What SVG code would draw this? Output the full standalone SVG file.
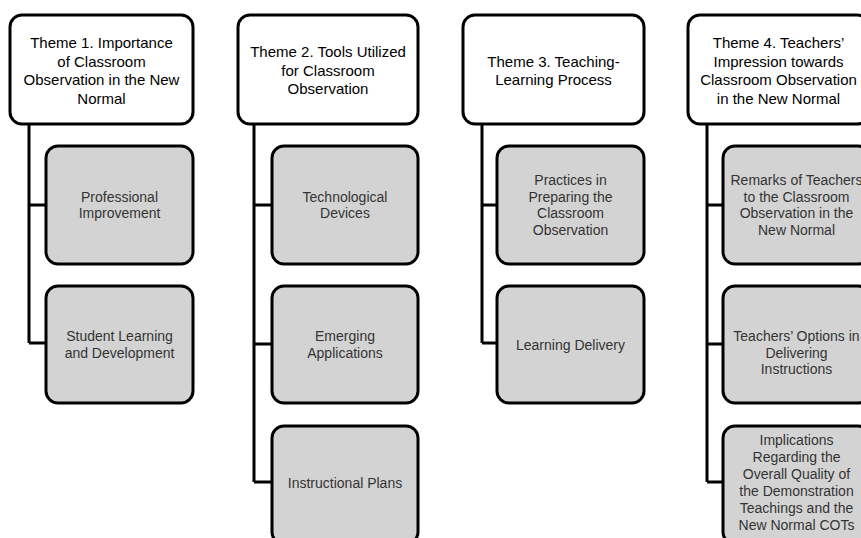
<svg xmlns="http://www.w3.org/2000/svg" width="861" height="538" viewBox="0 0 861 538">
<style>
.t{fill:#fff;stroke:#000;stroke-width:3}
.c{fill:#d3d3d3;stroke:#000;stroke-width:3}
.tt{font-family:"Liberation Sans",Arial,sans-serif;font-size:15px;fill:#000;text-anchor:middle}
.ct{font-family:"Liberation Sans",Arial,sans-serif;font-size:14px;fill:#333;text-anchor:middle}
.k{fill:none;stroke:#000;stroke-width:3}
</style>
<rect width="861" height="538" fill="#fff"/>
<g id="connectors">
<path class="k" d="M29 124V343M29 205H46M29 343H46"/>
<path class="k" d="M254 124V482M254 205H272M254 344H272M254 482H272"/>
<path class="k" d="M482 124V343M482 205H497M482 343H497"/>
<path class="k" d="M707 124V482M707 205H723M707 344H723M707 482H723"/>
</g>
<g id="theme1">
<rect class="t" x="10" y="15" width="183" height="109" rx="12"/>
<text class="tt"><tspan x="101.5" y="48">Theme 1. Importance</tspan><tspan x="101.5" y="66.5">of Classroom</tspan><tspan x="101.5" y="85">Observation in the New</tspan><tspan x="101.5" y="103.5">Normal</tspan></text>
</g>
<g id="t1c1">
<rect class="c" x="46" y="146" width="147" height="118" rx="12"/>
<text class="ct"><tspan x="119.5" y="201.5">Professional</tspan><tspan x="119.5" y="218">Improvement</tspan></text>
</g>
<g id="t1c2">
<rect class="c" x="46" y="286" width="147" height="117" rx="12"/>
<text class="ct"><tspan x="119.5" y="341">Student Learning</tspan><tspan x="119.5" y="357.5">and Development</tspan></text>
</g>
<g id="theme2">
<rect class="t" x="238" y="15" width="180" height="109" rx="12"/>
<text class="tt"><tspan x="328" y="57">Theme 2. Tools Utilized</tspan><tspan x="328" y="75.5">for Classroom</tspan><tspan x="328" y="94">Observation</tspan></text>
</g>
<g id="t2c1">
<rect class="c" x="272" y="146" width="146" height="118" rx="12"/>
<text class="ct"><tspan x="345" y="201.5">Technological</tspan><tspan x="345" y="218">Devices</tspan></text>
</g>
<g id="t2c2">
<rect class="c" x="272" y="286" width="146" height="117" rx="12"/>
<text class="ct"><tspan x="345" y="341">Emerging</tspan><tspan x="345" y="357.5">Applications</tspan></text>
</g>
<g id="t2c3">
<rect class="c" x="272" y="426" width="146" height="118" rx="12"/>
<text class="ct"><tspan x="345" y="488">Instructional Plans</tspan></text>
</g>
<g id="theme3">
<rect class="t" x="463" y="15" width="181" height="109" rx="12"/>
<text class="tt"><tspan x="553.5" y="66.5">Theme 3. Teaching-</tspan><tspan x="553.5" y="85">Learning Process</tspan></text>
</g>
<g id="t3c1">
<rect class="c" x="497" y="146" width="147" height="118" rx="12"/>
<text class="ct"><tspan x="570.5" y="185">Practices in</tspan><tspan x="570.5" y="201.5">Preparing the</tspan><tspan x="570.5" y="218">Classroom</tspan><tspan x="570.5" y="235">Observation</tspan></text>
</g>
<g id="t3c2">
<rect class="c" x="497" y="286" width="147" height="117" rx="12"/>
<text class="ct"><tspan x="570.5" y="349.5">Learning Delivery</tspan></text>
</g>
<g id="theme4">
<rect class="t" x="688" y="15" width="181" height="109" rx="12"/>
<text class="tt"><tspan x="778.5" y="48">Theme 4. Teachers’</tspan><tspan x="778.5" y="66.5">Impression towards</tspan><tspan x="778.5" y="85">Classroom Observation</tspan><tspan x="778.5" y="103.5">in the New Normal</tspan></text>
</g>
<g id="t4c1">
<rect class="c" x="723" y="146" width="147" height="118" rx="12"/>
<text class="ct"><tspan x="796.5" y="185">Remarks of Teachers</tspan><tspan x="796.5" y="201.5">to the Classroom</tspan><tspan x="796.5" y="218">Observation in the</tspan><tspan x="796.5" y="235">New Normal</tspan></text>
</g>
<g id="t4c2">
<rect class="c" x="723" y="286" width="147" height="117" rx="12"/>
<text class="ct"><tspan x="796.5" y="341">Teachers’ Options in</tspan><tspan x="796.5" y="358">Delivering</tspan><tspan x="796.5" y="374">Instructions</tspan></text>
</g>
<g id="t4c3">
<rect class="c" x="723" y="426" width="147" height="118" rx="12"/>
<text class="ct"><tspan x="796.5" y="445">Implications</tspan><tspan x="796.5" y="462">Regarding the</tspan><tspan x="796.5" y="479">Overall Quality of</tspan><tspan x="796.5" y="496">the Demonstration</tspan><tspan x="796.5" y="513">Teachings and the</tspan><tspan x="796.5" y="530">New Normal COTs</tspan></text>
</g>
</svg>
